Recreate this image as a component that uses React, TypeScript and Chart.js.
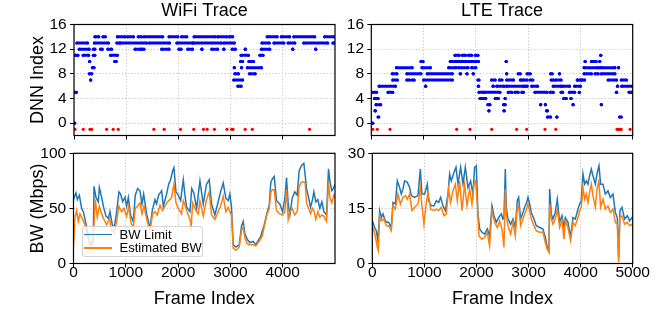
import React, { useEffect, useRef } from 'react';
import { Chart, registerables } from 'chart.js';

Chart.register(...registerables);

const FONT = "'Liberation Sans', Arial, Helvetica, sans-serif";

// ---------- tick labels ----------
const dnnTicks = [0, 4, 8, 12, 16];
const wifiFrameTicks = [0, 1000, 2000, 3000, 4000];
const lteFrameTicks = [0, 1000, 2000, 3000, 4000, 5000];
const wifiBwTicks = [0, 50, 100];
const lteBwTicks = [0, 15, 30];

// ---------- DNN index runs: [start frame, end frame, DNN index] ----------
const wifiDnnRuns: [number, number, number][] = [
  [0, 15, 0], [20, 45, 5], [30, 75, 11], [55, 260, 13], [100, 290, 12], [175, 280, 11],
  [300, 300, 10], [293, 340, 8], [320, 320, 7], [352, 384, 9], [370, 400, 11], [370, 400, 12],
  [390, 660, 13], [400, 475, 14], [510, 540, 12], [555, 600, 14], [650, 720, 12], [700, 830, 11],
  [780, 810, 10], [820, 880, 13], [830, 980, 14], [880, 1390, 13], [1030, 1140, 14], [1170, 1270, 12],
  [1230, 1290, 14], [1290, 1340, 12], [1340, 1700, 14], [1440, 1830, 13], [1680, 1820, 12],
  [1820, 1990, 14], [1970, 2280, 13], [2010, 2050, 12], [2060, 2160, 14], [2180, 2270, 12],
  [2300, 2700, 14], [2290, 2820, 13], [2450, 2450, 12], [2640, 2750, 12], [2750, 2920, 14],
  [2870, 3070, 13], [2870, 2870, 12], [2970, 3040, 14], [3030, 3090, 12], [3070, 3070, 9],
  [3080, 3150, 8], [3060, 3230, 7], [3140, 3200, 6], [3200, 3340, 11], [3190, 3230, 10],
  [3210, 3210, 9], [3280, 3280, 12], [3350, 3440, 10], [3320, 3590, 9], [3360, 3470, 8],
  [3560, 3620, 11], [3590, 3750, 12], [3600, 3740, 13], [3700, 3890, 14], [3830, 4020, 13],
  [3970, 4130, 14], [4100, 4230, 13], [4190, 4190, 12], [4210, 4610, 14], [4400, 4860, 13],
  [4630, 4630, 12], [4800, 4990, 14], [4960, 4990, 13],
];
const wifiFailFrames = [19, 178, 306, 338, 625, 751, 847, 1530, 1727, 2040, 2294, 2480, 2550, 2690, 2930, 3020, 3046, 3280, 3415, 4512];

const lteDnnRuns: [number, number, number][] = [
  [0, 30, 0], [30, 100, 5], [60, 130, 4], [70, 80, 2], [90, 180, 3], [130, 145, 1],
  [150, 460, 6], [320, 410, 5], [410, 500, 7], [400, 490, 8], [480, 780, 9], [680, 730, 7],
  [680, 950, 8], [780, 820, 7], [950, 990, 10], [970, 1130, 9], [1040, 1040, 6], [1000, 1550, 7],
  [1070, 1550, 8], [1480, 1620, 9], [1510, 1650, 10], [1600, 1680, 11], [1610, 2050, 10],
  [1670, 1850, 9], [1740, 1800, 11], [1700, 1710, 8], [1830, 1830, 8], [1860, 1920, 11],
  [1920, 2000, 9], [1950, 1950, 8], [1990, 2040, 11], [2040, 2060, 7], [2050, 2050, 6],
  [2060, 2150, 5], [2080, 2190, 4], [2150, 2460, 5], [2230, 2270, 3], [2250, 2250, 2],
  [2300, 2370, 7], [2330, 2330, 6], [2370, 2430, 4], [2400, 2540, 6], [2450, 2500, 7],
  [2530, 2560, 3], [2540, 2540, 2], [2560, 2560, 4], [2580, 2580, 10], [2590, 2590, 8],
  [2590, 2720, 7], [2590, 2910, 6], [2620, 2690, 5], [2750, 2810, 5], [2810, 2850, 8],
  [2850, 2880, 7], [2880, 2910, 5], [2910, 2980, 7], [2940, 2980, 6], [2980, 3040, 8],
  [3040, 3090, 7], [3070, 3180, 6], [3130, 3360, 5], [3240, 3240, 3], [3330, 3330, 3],
  [3350, 3370, 2], [3370, 3430, 1], [3420, 3480, 5], [3430, 3460, 8], [3440, 3490, 7],
  [3480, 3630, 6], [3530, 3630, 7], [3550, 3550, 1], [3600, 3600, 8], [3630, 3660, 5],
  [3680, 3730, 4], [3660, 3790, 6], [3790, 3890, 5], [3820, 3820, 4], [3860, 3860, 3],
  [3890, 4000, 6], [3940, 3940, 7], [3980, 4020, 7], [3980, 3980, 5], [4030, 4080, 7],
  [4070, 4400, 9], [4090, 4090, 10], [4070, 4210, 8], [4210, 4300, 10], [4280, 4340, 8],
  [4390, 4390, 11], [4370, 4370, 10], [4400, 4400, 3], [4340, 4660, 9], [4400, 4660, 8],
  [4530, 4690, 7], [4690, 4690, 5], [4710, 4710, 6], [4730, 4730, 9], [4750, 4780, 1],
  [4780, 4880, 7], [4790, 5000, 6], [4930, 4980, 5],
];
const lteFailFrames = [27, 115, 358, 1633, 1888, 2303, 2781, 2972, 3323, 3528, 4700, 4720, 4740, 4760, 4780, 4950];

// ---------- bandwidth traces ----------
const wifiLimitFrames = [0, 29, 48, 73, 111, 156, 188, 220, 264, 302, 347, 379, 392, 430, 474, 494, 538, 570, 621, 666, 697, 742, 780, 825, 869, 901, 940, 984, 1016, 1048, 1092, 1143, 1181, 1226, 1271, 1309, 1341, 1398, 1462, 1506, 1557, 1589, 1627, 1685, 1717, 1780, 1819, 1857, 1895, 1920, 1959, 2003, 2048, 2099, 2130, 2163, 2226, 2260, 2300, 2354, 2417, 2480, 2543, 2594, 2639, 2703, 2766, 2811, 2862, 2913, 2957, 2989, 3021, 3053, 3104, 3168, 3212, 3244, 3276, 3320, 3372, 3435, 3486, 3531, 3575, 3607, 3645, 3690, 3741, 3773, 3805, 3837, 3881, 3945, 3996, 4040, 4072, 4104, 4136, 4180, 4231, 4276, 4314, 4359, 4403, 4429, 4454, 4493, 4531, 4569, 4595, 4633, 4671, 4709, 4748, 4786, 4837, 4875, 4900, 4939, 4977, 4999];
const wifiLimitMbps = [58, 62, 64, 58, 62, 50, 47, 40, 30, 20, 17, 25, 70, 60, 56, 69, 60, 52, 43, 41, 47, 35, 33, 47, 65, 63, 56, 60, 52, 60, 44, 38, 62, 68, 66, 54, 63, 45, 32, 48, 58, 54, 62, 66, 52, 63, 72, 76, 84, 87, 65, 62, 57, 76, 62, 51, 47, 68, 64, 50, 75, 54, 72, 76, 54, 44, 56, 65, 73, 59, 57, 63, 51, 17, 15, 17, 34, 38, 27, 22, 19, 20, 17, 21, 24, 29, 35, 44, 53, 74, 77, 79, 57, 54, 47, 59, 78, 54, 44, 59, 65, 62, 84, 89, 91, 80, 68, 60, 51, 58, 65, 56, 58, 50, 56, 47, 44, 86, 75, 66, 69, 72];
const wifiEstFrames = [0, 15, 29, 60, 92, 124, 175, 220, 264, 315, 366, 392, 417, 455, 494, 538, 583, 634, 685, 729, 780, 825, 869, 920, 965, 1016, 1054, 1099, 1143, 1181, 1226, 1271, 1309, 1347, 1411, 1462, 1513, 1557, 1602, 1653, 1704, 1780, 1844, 1876, 1920, 1959, 2003, 2067, 2099, 2140, 2163, 2226, 2250, 2277, 2341, 2385, 2416, 2480, 2543, 2594, 2639, 2703, 2766, 2811, 2862, 2913, 2957, 2989, 3021, 3053, 3104, 3168, 3212, 3244, 3276, 3320, 3372, 3435, 3486, 3531, 3575, 3607, 3645, 3690, 3741, 3773, 3805, 3837, 3881, 3945, 3996, 4040, 4072, 4104, 4136, 4180, 4231, 4276, 4314, 4359, 4403, 4429, 4454, 4493, 4531, 4569, 4595, 4633, 4671, 4709, 4748, 4786, 4837, 4875, 4900, 4939, 4977, 4999];
const wifiEstMbps = [15, 30, 42, 48, 38, 45, 40, 35, 25, 16, 17, 35, 58, 42, 52, 45, 40, 35, 41, 30, 28, 38, 52, 47, 50, 43, 52, 37, 33, 50, 52, 55, 45, 52, 38, 30, 45, 47, 44, 53, 48, 55, 58, 60, 72, 55, 50, 45, 57, 52, 48, 40, 33, 55, 48, 45, 57, 43, 58, 65, 44, 40, 47, 52, 61, 47, 51, 47, 44, 14, 12, 15, 30, 33, 23, 18, 17, 17, 16, 19, 22, 25, 33, 43, 50, 65, 67, 67, 48, 45, 44, 47, 67, 40, 47, 50, 44, 47, 70, 74, 74, 73, 55, 50, 45, 50, 48, 40, 47, 42, 44, 43, 38, 74, 60, 55, 62, 60];

const lteLimitFrames = [0, 13, 45, 77, 109, 141, 173, 205, 237, 269, 314, 365, 397, 442, 480, 525, 557, 589, 621, 672, 717, 749, 813, 877, 922, 954, 1005, 1056, 1082, 1133, 1184, 1229, 1274, 1312, 1357, 1402, 1453, 1485, 1517, 1568, 1607, 1645, 1696, 1741, 1786, 1837, 1888, 1933, 1965, 1997, 2029, 2061, 2106, 2157, 2208, 2253, 2298, 2336, 2381, 2426, 2477, 2509, 2528, 2554, 2573, 2605, 2656, 2701, 2746, 2784, 2810, 2848, 2893, 2925, 2963, 2989, 3021, 3053, 3104, 3149, 3213, 3277, 3322, 3360, 3392, 3405, 3437, 3469, 3514, 3552, 3597, 3642, 3680, 3706, 3757, 3808, 3853, 3898, 3949, 3981, 4013, 4045, 4077, 4109, 4141, 4173, 4205, 4237, 4282, 4320, 4352, 4384, 4429, 4474, 4525, 4570, 4621, 4666, 4704, 4730, 4755, 4794, 4845, 4896, 4941, 4986, 5000];
const lteLimitMbps = [11.5, 11.2, 9.8, 8.9, 6.2, 14.4, 12.5, 13.5, 12.1, 11.2, 11.2, 9.8, 16.6, 16.2, 22.5, 20.7, 18.9, 20.3, 22.5, 22.1, 20.7, 18.5, 18, 18.5, 25.7, 18.9, 18.9, 21.6, 17.1, 15.7, 15.7, 17.1, 16.6, 18, 15.7, 14.4, 18.9, 24.4, 22.5, 24.8, 26.2, 21.6, 26.2, 21.6, 26.2, 20.7, 22.5, 18.9, 26.2, 26.6, 13.5, 9.4, 8.5, 8.0, 9.4, 7.5, 15.7, 13, 11.2, 12.5, 13.5, 12.1, 12.5, 25.7, 15.3, 12.1, 10.7, 12.1, 9.8, 17.1, 18, 12.1, 13.9, 15.3, 16.6, 18, 16.2, 13.9, 12.1, 10.3, 9.8, 9.4, 7.1, 4.4, 3.5, 20.3, 13.5, 12.1, 13.9, 17.5, 11.2, 13, 9.8, 12.5, 11.2, 7.1, 12.5, 12.1, 14.8, 16.2, 17.1, 24.4, 21.6, 22.5, 21.6, 23.9, 25.7, 23.9, 21.6, 24.8, 26.6, 21.6, 21.6, 18.9, 19.8, 18, 18.9, 13.9, 12.5, 1.6, 14.4, 15.3, 12.1, 13, 11.6, 12.5, 12];
const lteEstFrames = [0, 13, 58, 96, 115, 141, 173, 224, 269, 314, 365, 397, 442, 493, 538, 589, 634, 672, 717, 762, 813, 877, 922, 954, 992, 1037, 1069, 1120, 1184, 1229, 1274, 1325, 1376, 1421, 1466, 1504, 1549, 1594, 1632, 1677, 1722, 1773, 1818, 1869, 1914, 1952, 1984, 2016, 2048, 2106, 2157, 2208, 2253, 2298, 2349, 2400, 2445, 2490, 2528, 2554, 2573, 2605, 2656, 2701, 2746, 2784, 2810, 2848, 2893, 2925, 2963, 2989, 3021, 3053, 3104, 3149, 3213, 3277, 3322, 3360, 3392, 3405, 3437, 3469, 3514, 3552, 3597, 3642, 3680, 3706, 3757, 3808, 3853, 3898, 3949, 3981, 4013, 4045, 4077, 4109, 4141, 4173, 4205, 4237, 4282, 4320, 4352, 4384, 4429, 4474, 4525, 4570, 4621, 4666, 4704, 4730, 4755, 4794, 4845, 4896, 4941, 4986, 5000];
const lteEstMbps = [10, 9.8, 7.5, 4.4, 3.5, 13, 11.6, 12.1, 10.3, 10.3, 8.9, 15.7, 14.8, 18.9, 16.2, 18, 18.5, 17.5, 18.9, 14.4, 15.3, 16.2, 20.7, 15.7, 10.7, 16.6, 19.4, 14.8, 14.4, 14.8, 14.4, 15.3, 13, 13.5, 20.3, 16.6, 19.8, 21.6, 17.1, 22.5, 14.4, 21.6, 15.7, 20.3, 16.2, 21.6, 22.5, 16.2, 7.5, 6.6, 7.1, 8.5, 4.8, 14.4, 11.2, 9.8, 11.6, 9.4, 4.4, 20.3, 13.5, 10.3, 8, 11.2, 7.5, 15.3, 15.7, 10.3, 12.1, 13.5, 14.8, 16.2, 14.4, 12.1, 10.3, 8.9, 8.5, 8.5, 5.7, 3.9, 3, 16.2, 12.1, 10.7, 12.1, 14.8, 9.8, 11.6, 6.6, 11.6, 9.8, 6.2, 11.2, 10.3, 12.5, 14.4, 15.3, 20.7, 17.5, 18.9, 16.6, 19.4, 21.6, 18.5, 15.3, 20.7, 22.5, 15.3, 17.5, 14.8, 15.7, 13.9, 14.8, 11.2, 10.7, 0.3, 12.5, 13, 10.7, 11.2, 10.3, 10.7, 9.8];

// ---------- helpers ----------
const framePlugin = {
  id: 'frameBox',
  afterDraw(chart: any) {
    const { ctx, chartArea: a } = chart;
    ctx.save();
    ctx.strokeStyle = '#000';
    ctx.lineWidth = 1.2;
    ctx.strokeRect(a.left, a.top, a.right - a.left, a.bottom - a.top);
    ctx.restore();
  },
};

function runsToPoints(runs: [number, number, number][]) {
  const pts: { x: number; y: number | null }[] = [];
  for (const [s, e, v] of runs) {
    pts.push({ x: s, y: v }, { x: e, y: v }, { x: e, y: null });
  }
  return pts;
}

function series(frames: number[], vals: number[]) {
  return frames.map((f, i) => ({ x: f, y: vals[i] }));
}

const tickFont = { family: FONT, size: 15.5, lineHeight: 1 };
const labelFont = { family: FONT, size: 18, weight: 'normal' as const };

function gridOpts() {
  return {
    color: '#c4c4c4',
    lineWidth: 1,
    drawTicks: true,
    tickLength: 4,
    tickColor: '#000',
    tickWidth: 1,
  };
}

function zeroPad(s: any) {
  s.paddingTop = 0;
  s.paddingBottom = 0;
  s.paddingLeft = 0;
  s.paddingRight = 0;
}

function xScale(max: number, ticks: number[], showLabels: boolean, height: number, withTitle: boolean) {
  return {
    type: 'linear',
    min: 0,
    max,
    afterBuildTicks: (s: any) => {
      s.ticks = ticks.map((v) => ({ value: v }));
    },
    ticks: {
      display: showLabels,
      autoSkip: false,
      maxRotation: 0,
      font: tickFont,
      color: '#000',
      padding: -2.2,
      callback: (v: any) => String(v),
    },
    grid: gridOpts(),
    border: { display: false, dash: [1.2, 2] },
    title: {
      display: withTitle,
      text: 'Frame Index',
      font: labelFont,
      color: '#000',
      padding: { top: 0, bottom: 6.5 },
    },
    afterFit: (s: any) => {
      s.height = height;
      zeroPad(s);
    },
  };
}

function yScale(min: number, max: number, ticks: number[], width: number, title: string | null) {
  return {
    type: 'linear',
    min,
    max,
    afterBuildTicks: (s: any) => {
      s.ticks = ticks.map((v) => ({ value: v }));
    },
    ticks: {
      font: tickFont,
      color: '#000',
      padding: 3.3,
      callback: (v: any) => String(v),
    },
    grid: gridOpts(),
    border: { display: false, dash: [1.2, 2] },
    title: {
      display: !!title,
      text: title || '',
      font: labelFont,
      color: '#000',
      padding: { top: 27, bottom: 0 },
    },
    afterFit: (s: any) => {
      s.width = width;
      zeroPad(s);
    },
  };
}

function topConfig(
  titleText: string,
  runs: [number, number, number][],
  fails: number[],
  xMax: number,
  xTicks: number[],
  yWidth: number,
  padRight: number,
  yTitle: string | null,
): any {
  return {
    type: 'line',
    data: {
      datasets: [
        {
          data: runsToPoints(runs),
          borderColor: '#0000ff',
          backgroundColor: '#0000ff',
          borderWidth: 3,
          borderCapStyle: 'round',
          pointRadius: 1.6,
          pointBorderWidth: 0,
          pointBackgroundColor: '#0000ff',
          spanGaps: false,
          tension: 0,
          order: 2,
        },
        {
          data: fails.map((f) => ({ x: f, y: -1 })),
          showLine: false,
          pointRadius: 1.6,
          pointBorderWidth: 0,
          pointBackgroundColor: '#ff0000',
          borderColor: '#ff0000',
          order: 1,
        },
      ],
    },
    options: {
      animation: false,
      responsive: false,
      devicePixelRatio: 1,
      events: [],
      layout: { padding: { left: 0, right: padRight, top: 0, bottom: 0 } },
      plugins: {
        legend: { display: false },
        tooltip: { enabled: false },
        title: {
          display: true,
          text: titleText,
          fullSize: false,
          font: labelFont,
          color: '#000',
          padding: { top: 0, bottom: 2.9 },
        },
      },
      scales: {
        x: xScale(xMax, xTicks, false, 9.5, false),
        y: yScale(-2, 16, dnnTicks, yWidth, yTitle),
      },
    },
    plugins: [framePlugin],
  };
}

function bottomConfig(
  limit: { x: number; y: number }[],
  est: { x: number; y: number }[],
  xMax: number,
  xTicks: number[],
  yMax: number,
  yTicks: number[],
  yWidth: number,
  padRight: number,
  yTitle: string | null,
): any {
  return {
    type: 'line',
    data: {
      datasets: [
        {
          label: 'BW Limit',
          data: limit,
          borderColor: '#1f77b4',
          borderWidth: 1.5,
          pointRadius: 0,
          tension: 0,
          order: 2,
        },
        {
          label: 'Estimated BW',
          data: est,
          borderColor: '#ff7f0e',
          borderWidth: 1.5,
          pointRadius: 0,
          tension: 0,
          order: 1,
        },
      ],
    },
    options: {
      animation: false,
      responsive: false,
      devicePixelRatio: 1,
      events: [],
      layout: { padding: { left: 0, right: padRight, top: 13.3, bottom: 0 } },
      plugins: {
        legend: { display: false },
        tooltip: { enabled: false },
      },
      scales: {
        x: xScale(xMax, xTicks, true, 52.5, true),
        y: yScale(0, yMax, yTicks, yWidth, yTitle),
      },
    },
    plugins: [framePlugin],
  };
}

export default function App() {
  const tl = useRef<HTMLCanvasElement>(null);
  const tr = useRef<HTMLCanvasElement>(null);
  const bl = useRef<HTMLCanvasElement>(null);
  const br = useRef<HTMLCanvasElement>(null);

  useEffect(() => {
    const charts = [
      new Chart(tl.current!, topConfig('WiFi Trace', wifiDnnRuns, wifiFailFrames, 4999, wifiFrameTicks, 74, 10, 'DNN Index')),
      new Chart(tr.current!, topConfig('LTE Trace', lteDnnRuns, lteFailFrames, 5000, lteFrameTicks, 26.3, 39.3, null)),
      new Chart(
        bl.current!,
        bottomConfig(series(wifiLimitFrames, wifiLimitMbps), series(wifiEstFrames, wifiEstMbps), 4999, wifiFrameTicks, 100, wifiBwTicks, 73.5, 10, 'BW (Mbps)'),
      ),
      new Chart(
        br.current!,
        bottomConfig(series(lteLimitFrames, lteLimitMbps), series(lteEstFrames, lteEstMbps), 5000, lteFrameTicks, 30, lteBwTicks, 27.3, 39.3, null),
      ),
    ];
    return () => charts.forEach((c) => c.destroy());
  }, []);

  const abs = (l: number, t: number, w: number, h: number): React.CSSProperties => ({
    position: 'absolute',
    left: l,
    top: t,
    width: w,
    height: h,
  });

  return (
    <div style={{ position: 'fixed', left: 0, top: 0, width: 672, height: 316, background: '#fff', overflow: 'hidden' }}>
      <canvas ref={tl} width={345} height={145} style={abs(0, 0, 345, 145)} />
      <canvas ref={tr} width={327} height={145} style={abs(345, 0, 327, 145)} />
      <canvas ref={bl} width={345} height={176} style={abs(0, 140, 345, 176)} />
      <canvas ref={br} width={327} height={176} style={abs(345, 140, 327, 176)} />
      <div
        style={{
          ...abs(81.5, 226, 121.5, 31),
          boxSizing: 'border-box',
          border: '1px solid rgba(204,204,204,0.85)',
          borderRadius: 3,
          background: 'rgba(255,255,255,0.8)',
          fontFamily: FONT,
          fontSize: 13,
          color: '#000',
        }}
      >
        <div style={{ position: 'absolute', left: 1.5, top: 6.8, width: 28, height: 1.6, background: '#1f77b4' }} />
        <div style={{ position: 'absolute', left: 37, top: -0.5, height: 16, lineHeight: '16px', whiteSpace: 'nowrap' }}>BW Limit</div>
        <div style={{ position: 'absolute', left: 1.5, top: 20.1, width: 28, height: 1.6, background: '#ff7f0e' }} />
        <div style={{ position: 'absolute', left: 37, top: 12.8, height: 16, lineHeight: '16px', whiteSpace: 'nowrap' }}>Estimated BW</div>
      </div>
    </div>
  );
}
